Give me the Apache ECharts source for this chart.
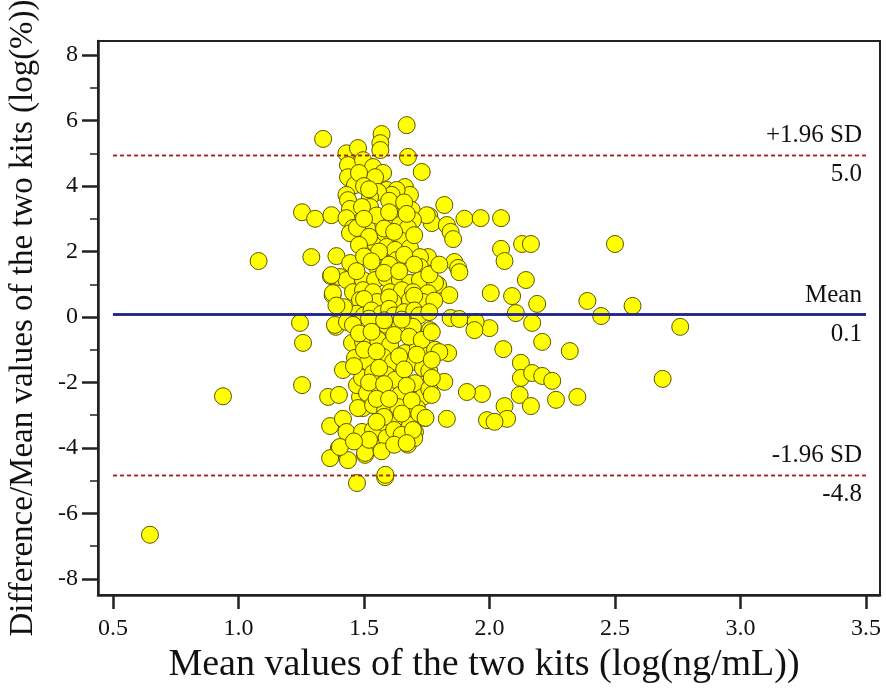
<!DOCTYPE html>
<html>
<head>
<meta charset="utf-8">
<script src="https://cdn.jsdelivr.net/npm/echarts@6/dist/echarts.min.js"></script>
<style>
html, body { margin: 0; padding: 0; background: #fff; }
#chart { width: 886px; height: 697px; }
</style>
</head>
<body>
<div id="chart"></div>
<script>
// tick labels
var xTicks = [0.5, 1.0, 1.5, 2.0, 2.5, 3.0, 3.5];
var yMajorTicks = [-8, -6, -4, -2, 0, 2, 4, 6, 8];
var yMinorTicks = [-7, -5, -3, -1, 1, 3, 5, 7];

// limits of agreement: [value, top label, bottom label]
var meanDiff = [0.07, 'Mean', '0.1'];
var upperLoA = [4.95, '+1.96 SD', '5.0'];
var lowerLoA = [-4.82, '-1.96 SD', '-4.8'];

// points [mean, difference/mean]
var sparseLeft = [
    [0.647,-6.65],[0.938,-2.42],[1.08,1.71],[1.245,-0.18],[1.257,-0.79],[1.253,-2.08],
    [1.253,3.2],[1.29,1.83],[1.305,3.0],[1.337,5.44]
];
var upperCluster = [
    [1.37,3.11],[1.39,1.86],[1.445,1.65],[1.375,0.67],[1.368,1.25],[1.43,5.0],[1.476,5.16],
    [1.436,4.64],[1.436,4.27],[1.464,4.03],[1.43,3.73],[1.436,3.57],[1.444,3.3],[1.43,3.02],
    [1.456,2.72],[1.444,2.56],[1.404,1.22],[1.43,1.13],
    [1.67,5.86],[1.57,5.59],[1.565,5.31],[1.565,5.1],[1.675,4.89],[1.73,4.43],[1.82,3.42],
    [1.90,3.0],[1.965,3.02],[1.76,3.08],[1.77,2.87],[1.83,2.81],[1.845,2.6],[1.855,2.38],
    [1.86,1.68],[1.875,1.5],[1.88,1.37],[1.755,1.83],[1.795,0.98],[1.84,0.67],
    [1.496,4.79],[1.536,4.58],[1.576,4.4],[1.544,4.27],[1.663,3.97],[1.683,3.73],[1.59,3.88],
    [1.63,3.88],[1.61,3.73],[1.556,3.82],[1.524,3.66],[1.524,3.36],[1.624,3.42],[1.492,3.36],
    [1.69,3.27],[1.75,3.11],[1.695,2.96],[1.63,3.05],[1.596,2.96],[1.643,2.81],[1.675,2.72],
    [1.512,2.72],[1.472,2.72],[1.544,2.26],[1.584,2.56],[1.643,2.35],[1.59,2.14],[1.624,2.05],
    [1.683,2.11],[1.723,1.83],[1.723,1.53],[1.552,1.53],[1.63,1.74],[1.37,1.28],[1.496,1.13],
    [1.544,1.13],[1.59,1.19],[1.643,1.13],[1.683,1.04],[1.723,1.13],[1.783,1.04],[1.376,0.73],
    [1.456,0.76],[1.496,0.82],[1.536,0.76],[1.604,0.76],[1.651,0.82],[1.695,0.76],[1.755,0.73],
    [1.484,0.52],[1.552,0.46],[1.616,0.46],[1.683,0.52],[1.735,0.46],
    [1.48,4.4],[1.5,4.0],[1.52,3.9],[1.6,3.55],[1.66,3.5],[1.55,3.1],[1.6,3.2],[1.67,3.15],
    [1.5,3.0],[1.58,2.7],[1.62,2.6],[1.7,2.5],[1.52,2.45],[1.48,2.2],[1.56,2.0],[1.66,1.9],
    [1.7,1.6],[1.5,1.85],[1.53,1.7],[1.6,1.6],[1.47,1.4],[1.58,1.35],[1.64,1.4],[1.76,1.3],
    [1.8,1.6],[1.5,0.55],[1.6,0.6],[1.7,0.65],[1.78,0.5],
    [1.47,0.1],[1.5,0.05],[1.53,0.2],[1.57,0.1],[1.6,0.25],[1.62,0.05],[1.66,0.15],[1.7,0.2],
    [1.72,0.05],[1.76,0.15],[1.42,0.3],[1.39,0.35]
];
var lowerCluster = [
    [1.416,-1.62],[1.357,-2.44],[1.40,-2.38],[1.365,-3.33],[1.416,-3.11],[1.43,-3.51],[1.40,-4.0],
    [1.365,-4.31],[1.436,-4.37],[1.472,-5.07],[1.388,-0.3],[1.484,-2.44],[1.472,-2.08],
    [1.496,-2.78],[1.504,-4.21],
    [1.384,-0.24],[1.432,-0.15],[1.456,-0.24],[1.544,-0.18],[1.59,-0.24],[1.643,-0.3],
    [1.695,-0.3],[1.763,-0.4],[1.452,-0.79],[1.496,-0.76],[1.556,-0.7],[1.604,-0.85],
    [1.663,-1.1],[1.715,-0.92],[1.75,-1.1],[1.783,-1.0],[1.464,-1.25],[1.516,-1.37],
    [1.576,-1.22],[1.616,-1.37],[1.691,-1.37],[1.735,-1.56],[1.492,-1.86],[1.536,-1.71],
    [1.59,-1.77],[1.624,-1.92],[1.703,-2.02],[1.512,-2.32],[1.564,-2.23],[1.643,-2.38],
    [1.735,-2.44],[1.476,-2.78],[1.536,-2.69],[1.584,-2.84],[1.636,-2.75],[1.711,-2.78],
    [1.743,-3.08],[1.492,-3.51],[1.536,-3.45],[1.59,-3.3],[1.63,-3.2],[1.683,-3.3],[1.703,-3.51],
    [1.671,-3.76],[1.675,-3.9],[1.544,-3.97],[1.504,-4.15],[1.404,-3.97],[1.584,-4.89],[1.59,-3.69],
    [1.52,-0.05],[1.58,-0.1],[1.65,-0.08],
    [1.48,-0.5],[1.53,-0.45],[1.62,-0.55],[1.68,-0.6],[1.73,-0.7],[1.5,-1.0],[1.55,-1.05],
    [1.64,-1.2],[1.71,-1.15],[1.46,-1.5],[1.56,-1.55],[1.66,-1.6],[1.76,-1.65],[1.52,-2.0],
    [1.58,-2.05],[1.67,-2.1],[1.76,-2.2],[1.55,-2.5],[1.6,-2.5],[1.69,-2.55],[1.58,-3.05],
    [1.65,-2.95],[1.72,-2.95],[1.55,-3.2],[1.62,-3.45],[1.65,-3.6],[1.7,-3.7],[1.52,-3.75],
    [1.46,-3.8],[1.57,-4.1],[1.62,-3.9]
];
var rightSide = [
    [2.046,3.02],[2.046,2.08],[2.06,1.71],[2.13,2.23],[2.165,2.23],[2.50,2.23],[2.145,1.13],
    [2.005,0.73],[2.09,0.64],[2.19,0.40],[2.105,0.12],[2.39,0.49],[2.445,0.03],[2.57,0.34],
    [2.76,-0.3],[2.17,-0.18],[2.0,-0.34],[2.21,-0.76],[2.055,-0.98],[2.32,-1.04],[2.125,-1.40],
    [2.125,-1.86],[2.17,-1.71],[2.21,-1.80],[2.25,-1.95],[2.69,-1.89],[2.12,-2.38],[2.265,-2.53],
    [2.35,-2.44],[2.06,-2.72],[2.165,-2.72],[2.07,-3.11],[1.99,-3.15],[2.02,-3.2],[1.97,-2.35],
    [1.91,-2.29],
    [1.845,-0.03],[1.88,-0.06],[1.945,-0.15],[1.94,-0.4],[1.77,-0.46],[1.835,-1.1],[1.80,-1.07],
    [1.82,-1.98],[1.83,-3.11],[1.77,-2.38],[1.745,-3.08],[1.695,-3.45],[1.67,-3.85],[1.585,-4.82],
    [1.77,-1.31],[1.77,-1.86]
];

var allPoints = sparseLeft.concat(upperCluster, lowerCluster, rightSide);

var serif = 'Liberation Serif';

function refLine(def, color, type, width) {
    var seg = [{ coord: [0.5, def[0]] }, { coord: [3.5, def[0]] }];
    var lbl = { color: '#111', fontFamily: serif, fontSize: 25, distance: [4, 7] };
    return [
        [Object.assign({}, seg[0], { label: Object.assign({ position: 'insideEndTop', formatter: def[1] }, lbl) }), seg[1]],
        [Object.assign({}, seg[0], { label: Object.assign({ position: 'insideEndBottom', formatter: def[2] }, lbl) }), seg[1]]
    ].map(function (d) {
        d[0].lineStyle = { color: color, type: type, width: width, opacity: 1 };
        return d;
    });
}

var chart = echarts.init(document.getElementById('chart'));
chart.setOption({
    animation: false,
    grid: {
        left: 98, right: 6, top: 41, bottom: 102,
        outerBoundsMode: 'none',
        containLabel: false,
        show: true, borderColor: '#222', borderWidth: 2
    },
    xAxis: {
        type: 'value',
        min: 0.44, max: 3.556,
        name: 'Mean values of the two kits (log(ng/mL))',
        nameLocation: 'middle',
        nameGap: 50,
        nameTextStyle: { fontFamily: serif, fontSize: 38, color: '#111', padding: [0, 10, 0, 0] },
        axisLine: { show: true, onZero: false, lineStyle: { color: '#222', width: 2.5 } },
        axisTick: { show: true, length: 14, customValues: xTicks, lineStyle: { color: '#222', width: 2.5 } },
        axisLabel: {
            customValues: xTicks, margin: 22,
            fontFamily: serif, fontSize: 24, color: '#111',
            formatter: function (v) { return v.toFixed(1); }
        },
        splitLine: { show: false }
    },
    yAxis: [{
        type: 'value',
        min: -8.49, max: 8.43,
        name: 'Difference/Mean values of the two kits (log(%))',
        nameLocation: 'middle',
        nameGap: 58,
        nameTextStyle: { fontFamily: serif, fontSize: 33, color: '#111' },
        axisLine: { show: true, onZero: false, lineStyle: { color: '#222', width: 2.5 } },
        axisTick: { show: true, length: 16, customValues: yMajorTicks, lineStyle: { color: '#222', width: 2.5 } },
        axisLabel: {
            customValues: yMajorTicks, margin: 20,
            fontFamily: serif, fontSize: 24, color: '#111'
        },
        splitLine: { show: false }
    }, {
        type: 'value',
        position: 'left',
        min: -8.49, max: 8.43,
        axisLine: { show: false },
        axisTick: { show: true, length: 8, customValues: yMinorTicks, lineStyle: { color: '#222', width: 1.5 } },
        axisLabel: { show: false },
        splitLine: { show: false }
    }],
    series: [{
        type: 'scatter',
        data: allPoints,
        symbolSize: 17,
        itemStyle: { color: '#ffff00', borderColor: '#5c5400', borderWidth: 1, opacity: 1 },
        markLine: {
            silent: true,
            symbol: ['none', 'none'],
            data: refLine(upperLoA, '#a8201a', [4, 3], 1.3)
                .concat(refLine(lowerLoA, '#a8201a', [4, 3], 1.3))
                .concat(refLine(meanDiff, '#25258c', 'solid', 2.5))
        }
    }]
});
</script>
</body>
</html>
